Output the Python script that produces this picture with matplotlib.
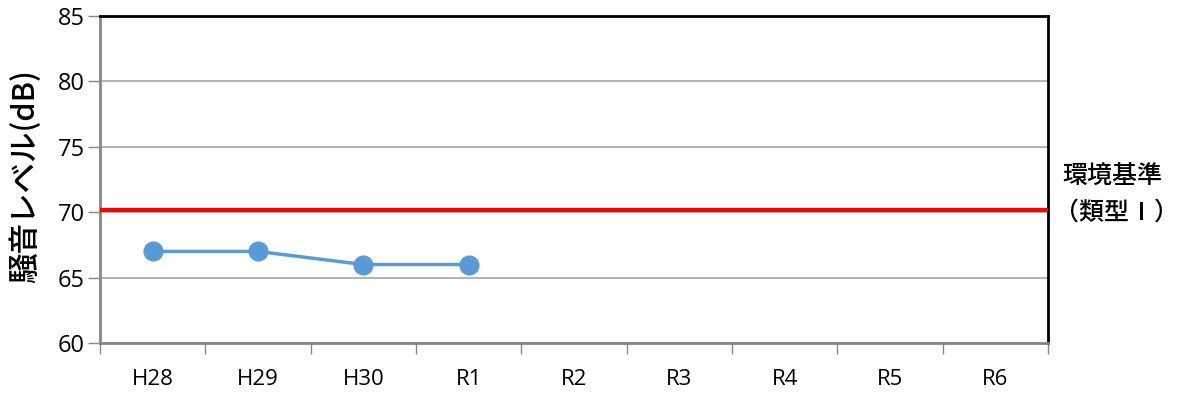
import matplotlib
matplotlib.use("Agg")
import matplotlib.pyplot as plt

# Noise level by fiscal year
categories = ["H28", "H29", "H30", "R1", "R2", "R3", "R4", "R5", "R6"]
noise_db = [67, 67, 66, 66]
standard_db = 70.2
y_ticks = [60, 65, 70, 75, 80, 85]

plt.rcParams["font.family"] = ["Noto Sans CJK JP", "DejaVu Sans"]

fig = plt.figure(figsize=(11.79, 3.94), dpi=100)
ax = fig.add_axes([100 / 1179, 51 / 394, 948 / 1179, 327 / 394])

x = list(range(len(categories)))
ax.set_xlim(-0.5, len(categories) - 0.5)
ax.set_ylim(min(y_ticks), max(y_ticks))

# horizontal gridlines
ax.set_yticks(y_ticks)
ax.yaxis.grid(True, color="#a6a6a6", linewidth=1.2)
ax.set_axisbelow(True)

# environmental standard line
ax.axhline(standard_db, color="#ff0000", linewidth=3.0, zorder=3)

# measured series
ax.plot(x[:len(noise_db)], noise_db, color="#5b9bd5", linewidth=2.5,
        marker="o", markersize=13.5, zorder=4)

# category ticks at boundaries, labels centered
ax.set_xticks([i - 0.5 for i in range(len(categories) + 1)])
ax.set_xticklabels([])
ax.set_xticks(x, minor=True)
ax.set_xticklabels(categories, minor=True, fontsize=16, family=["Open Sans", "DejaVu Sans"])
ax.tick_params(axis="x", which="minor", length=0, pad=19)
ax.tick_params(axis="x", which="major", length=8, width=1, color="#868686", direction="out")
ax.tick_params(axis="y", length=9, width=1, color="#868686", direction="out", pad=2)
for lbl in ax.get_yticklabels():
    lbl.set_fontsize(17)
    lbl.set_family(["Open Sans", "DejaVu Sans"])

for side in ("left", "bottom"):
    ax.spines[side].set_color("#868686")
    ax.spines[side].set_linewidth(2)
for side in ("top", "right"):
    ax.spines[side].set_color("#000000")
    ax.spines[side].set_linewidth(2)

ax.set_ylabel("騒音レベル(dB)", fontsize=22, fontweight="medium", va="center")
ax.yaxis.set_label_coords(-0.079, 0.51)

fig.text(1062 / 1179, 1 - 177 / 394, "環境基準", fontsize=18, fontweight="medium",
         va="center", ha="left")
fig.text(1054 / 1179, 1 - 213 / 394, "（類型Ⅰ）", fontsize=18, fontweight="medium",
         va="center", ha="left")

fig.savefig("out.png", dpi=100)
